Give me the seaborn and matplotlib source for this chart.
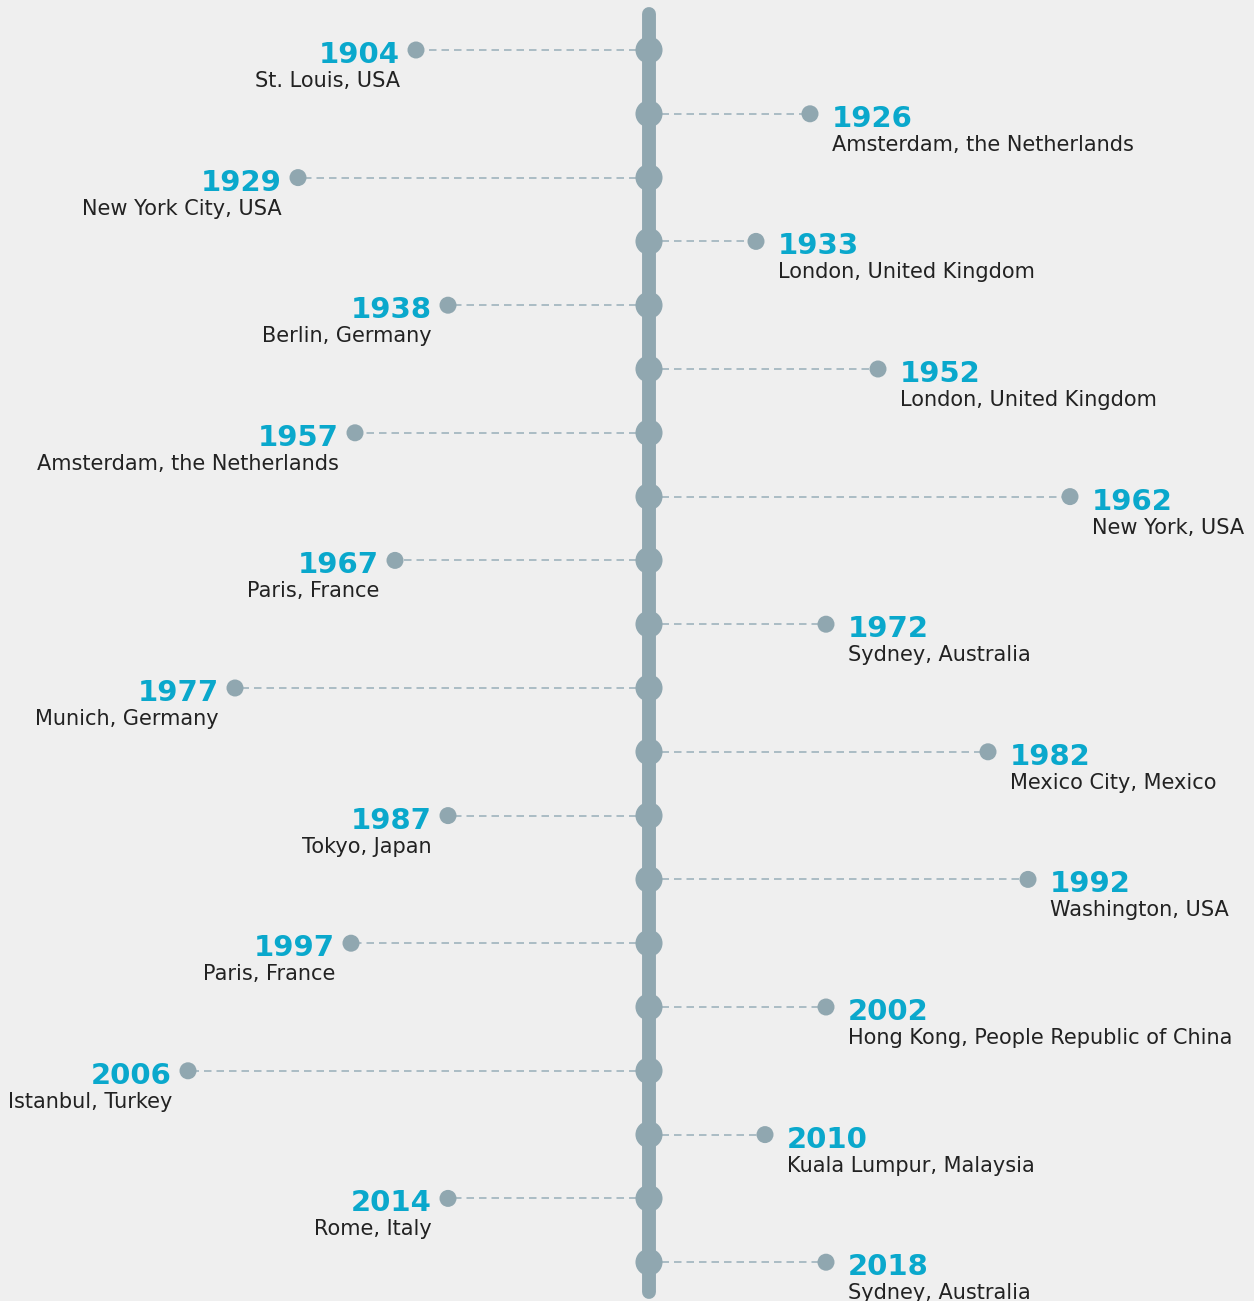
import pandas as pd
import matplotlib.pyplot as plt
import seaborn as sns

# ---------------------------------------------------------------
# DATA
# ---------------------------------------------------------------
years = [1904, 1926, 1929, 1933, 1938, 1952, 1957, 1962, 1967, 1972,
         1977, 1982, 1987, 1992, 1997, 2002, 2006, 2010, 2014, 2018]
places = ["St. Louis, USA", "Amsterdam, the Netherlands", "New York City, USA",
          "London, United Kingdom", "Berlin, Germany", "London, United Kingdom",
          "Amsterdam, the Netherlands", "New York, USA", "Paris, France",
          "Sydney, Australia", "Munich, Germany", "Mexico City, Mexico",
          "Tokyo, Japan", "Washington, USA", "Paris, France",
          "Hong Kong, People Republic of China", "Istanbul, Turkey",
          "Kuala Lumpur, Malaysia", "Rome, Italy", "Sydney, Australia"]
sides = ["L", "R"] * 10
# length of the dashed connector for each event (pixels)
reach = [233, 161, 351, 107, 201, 229, 294, 421, 254, 177,
         414, 339, 201, 379, 298, 177, 461, 116, 201, 177]

# ---------------------------------------------------------------
# STYLE / LAYOUT
# ---------------------------------------------------------------
BG = "#efefef"
AXIS = "#90a7b0"
DASH = "#9fb3bd"
CYAN = "#0aa8cc"
TEXT = "#222222"
W, H = 1254, 1301
X0 = 649          # x of the vertical spine
Y0, STEP = 50, 63.8

sns.set_theme(style="white")
plt.rcParams["font.family"] = ["DejaVu Sans"]

df = pd.DataFrame({"year": years, "place": places, "side": sides, "reach": reach})
df["y"] = Y0 + df.index * STEP
df["sign"] = df["side"].map({"L": -1, "R": 1})
df["xe"] = X0 + df["sign"] * df["reach"]
df["x0"] = X0

fig = plt.figure(figsize=(W / 100, H / 100), dpi=100, facecolor=BG)
ax = fig.add_axes([0, 0, 1, 1])
ax.set_facecolor(BG)
ax.axis("off")

# spine
ax.plot([X0, X0], [14, 1292], color=AXIS, lw=10, solid_capstyle="round", zorder=1)

# dashed connectors
for _, r in df.iterrows():
    ax.plot([X0, r["xe"]], [r["y"], r["y"]], color=DASH, lw=1.2,
            dashes=(4.5, 3), zorder=0)

sns.scatterplot(data=df, x="x0", y="y", s=380, color=AXIS, edgecolor="none",
                ax=ax, zorder=3, legend=False)
sns.scatterplot(data=df, x="xe", y="y", s=150, color=AXIS, edgecolor="none",
                ax=ax, zorder=3, legend=False)

# labels
for _, r in df.iterrows():
    if r["side"] == "L":
        tx, ha = r["xe"] - 16, "right"
    else:
        tx, ha = r["xe"] + 22, "left"
    ax.text(tx, r["y"] + 13, str(r["year"]), ha=ha, va="baseline",
            fontsize=21, fontweight="bold", color=CYAN)
    ax.text(tx, r["y"] + 37, r["place"], ha=ha, va="baseline",
            fontsize=15, color=TEXT)

ax.set_xlim(0, W)
ax.set_ylim(H, 0)
fig.savefig("out.png", dpi=100, facecolor=BG)
